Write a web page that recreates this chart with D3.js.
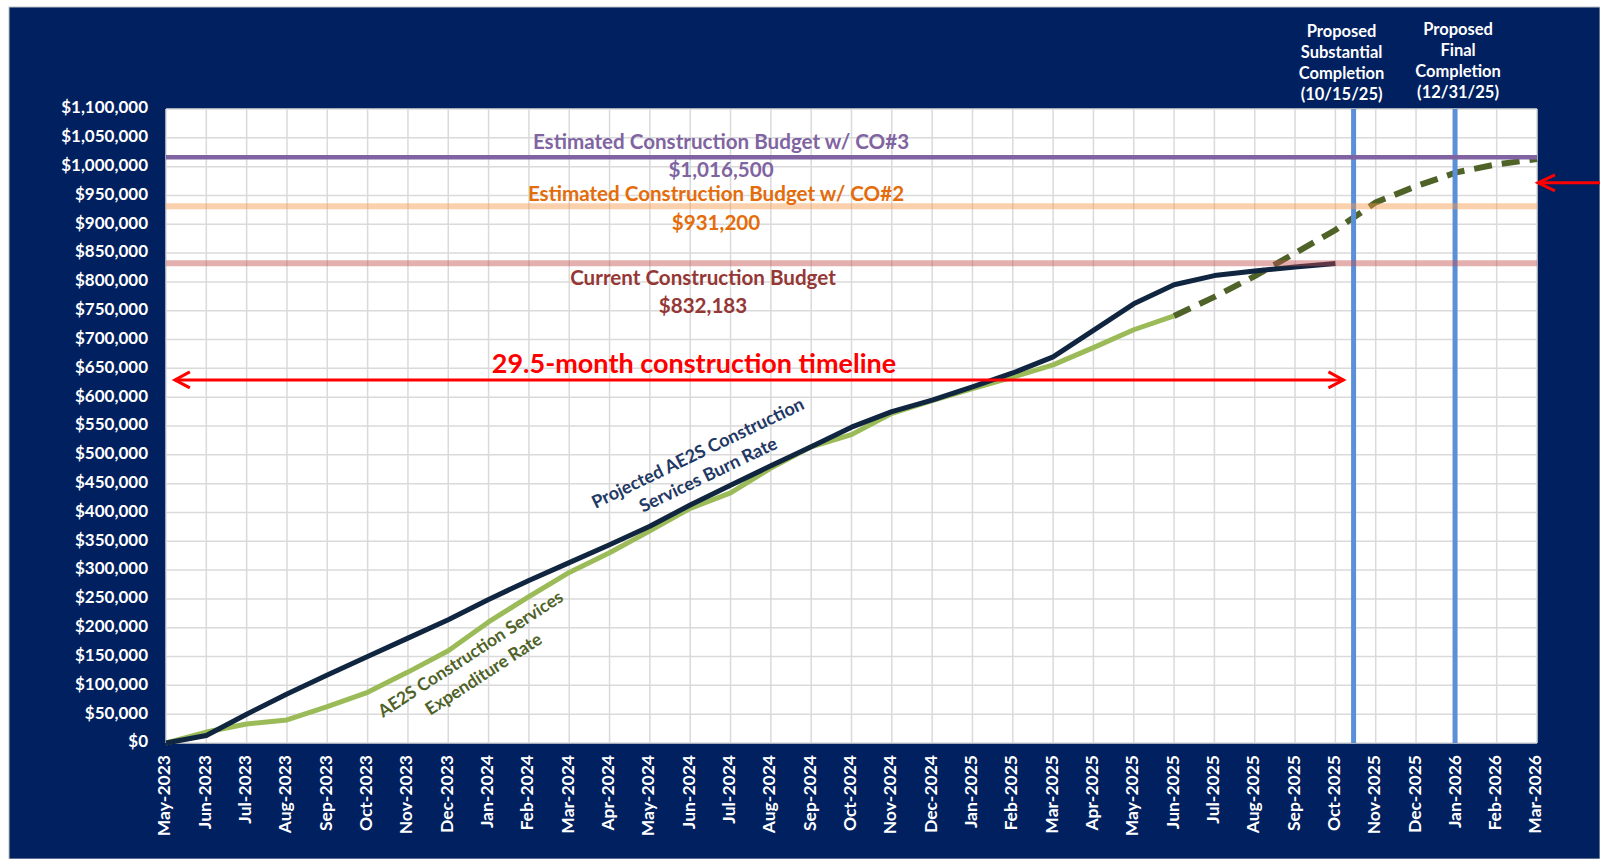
<!DOCTYPE html>
<html>
<head>
<meta charset="utf-8">
<script src="https://cdn.jsdelivr.net/npm/d3@7"></script>
<style>
  body { margin: 0; background: #fff; }
  svg text { font-family: Lato, "Open Sans", sans-serif; font-weight: bold; }
</style>
</head>
<body>
<svg id="chart" width="1600" height="859"></svg>
<script>
// Month tick labels (x axis)
const months = [
  'May-2023', 'Jun-2023', 'Jul-2023', 'Aug-2023', 'Sep-2023', 'Oct-2023', 'Nov-2023', 'Dec-2023',
  'Jan-2024', 'Feb-2024', 'Mar-2024', 'Apr-2024', 'May-2024', 'Jun-2024', 'Jul-2024', 'Aug-2024',
  'Sep-2024', 'Oct-2024', 'Nov-2024', 'Dec-2024', 'Jan-2025', 'Feb-2025', 'Mar-2025', 'Apr-2025',
  'May-2025', 'Jun-2025', 'Jul-2025', 'Aug-2025', 'Sep-2025', 'Oct-2025', 'Nov-2025', 'Dec-2025',
  'Jan-2026', 'Feb-2026', 'Mar-2026'
];

// Projected burn rate, May-2023 .. Oct-2025
const burnRate = [
  0, 13000, 50000, 85000, 118000, 150000, 182000, 214000,
  249000, 282000, 313000, 344000, 376000, 413000, 447000, 481000,
  514000, 548000, 575000, 595000, 618000, 642000, 670000, 716000,
  762000, 795000, 811000, 819000, 826000, 832000
];

// Actual expenditure, May-2023 .. Jun-2025
const expenditure = [
  0, 19000, 33000, 40000, 63000, 88000, 123000, 160000,
  210000, 254000, 296000, 330000, 368000, 407000, 434000, 477000,
  514000, 535000, 572000, 594000, 615000, 635000, 656000, 686000,
  717000, 741000
];

// Projected expenditure (dashed), Jun-2025 .. Mar-2026
const projectedStart = 25;
const projected = [741000, 774000, 810000, 850000, 890000, 938000, 966000, 990000, 1004000, 1013000];

// Budget reference lines
const budgetNames = ['Estimated Construction Budget w/ CO#3', 'Estimated Construction Budget w/ CO#2', 'Current Construction Budget'];
const budgetValues = [1016500, 931200, 832183];

// Milestones
const milestoneNames = [['Proposed', 'Substantial', 'Completion', '(10/15/25)'], ['Proposed', 'Final', 'Completion', '(12/31/25)']];
const milestoneDates = ['2025-10-15', '2025-12-31'];

// Timeline annotation
const timelineLabel = '29.5-month construction timeline';

// ---- layout ----
const plotLeft = 166, plotRight = 1537, plotTop = 109, plotBottom = 743;
const svg = d3.select('#chart');

const x = d3.scaleLinear().domain([0, months.length - 1]).range([plotLeft, plotRight]);
const y = d3.scaleLinear().domain([0, 1100000]).range([plotBottom, plotTop]);
const yTicks = d3.range(0, 1100001, 50000);

// convert a date string into a fractional month index from May-2023
const monthIndex = (s) => {
  const [yy, mm, dd] = s.split('-').map(Number);
  const days = new Date(yy, mm, 0).getDate();
  return (yy - 2023) * 12 + (mm - 5) + (dd - 1) / days;
};

// background panel
svg.append('rect')
  .attr('x', 9).attr('y', 7).attr('width', 1591).attr('height', 852)
  .attr('fill', '#002060').attr('stroke', '#bfbfbf').attr('stroke-width', 1);

svg.append('rect')
  .attr('x', plotLeft).attr('y', plotTop).attr('width', plotRight - plotLeft).attr('height', plotBottom - plotTop)
  .attr('fill', '#fff');

// grid
const grid = svg.append('g').attr('stroke', '#dadada').attr('stroke-width', 1.5);
grid.selectAll('.hgrid').data(yTicks).join('line')
  .attr('x1', plotLeft).attr('x2', plotRight)
  .attr('y1', d => y(d)).attr('y2', d => y(d));
grid.selectAll('.vgrid').data(months).join('line')
  .attr('x1', (d, i) => x(i)).attr('x2', (d, i) => x(i))
  .attr('y1', plotTop).attr('y2', plotBottom);

// y axis labels
svg.append('g').selectAll('text').data(yTicks).join('text')
  .attr('x', 148).attr('y', d => y(d))
  .attr('text-anchor', 'end').attr('dominant-baseline', 'middle')
  .attr('fill', '#fff').attr('font-size', 17)
  .text(d => d3.format('$,')(d));

// x axis labels
svg.append('g').selectAll('text').data(months).join('text')
  .attr('transform', (d, i) => `translate(${x(i)},755) rotate(-90)`)
  .attr('text-anchor', 'end').attr('dominant-baseline', 'middle')
  .attr('fill', '#fff').attr('font-size', 17.5)
  .text(d => d);

// series
const line = offset => d3.line().x((d, i) => x(i + offset)).y(d => y(d));

svg.append('path').datum(expenditure)
  .attr('d', line(0)).attr('fill', 'none')
  .attr('stroke', '#9bbb59').attr('stroke-width', 5).attr('stroke-linejoin', 'round');

svg.append('path').datum(projected)
  .attr('d', line(projectedStart)).attr('fill', 'none')
  .attr('stroke', '#4f6228').attr('stroke-width', 6)
  .attr('stroke-dasharray', '18,10');

svg.append('path').datum(burnRate)
  .attr('d', line(0)).attr('fill', 'none')
  .attr('stroke', '#10253f').attr('stroke-width', 5).attr('stroke-linejoin', 'round');

// milestone lines
const msX = milestoneDates.map(d => x(monthIndex(d)));
svg.append('g').selectAll('line').data(msX).join('line')
  .attr('x1', d => d).attr('x2', d => d)
  .attr('y1', plotTop).attr('y2', plotBottom)
  .attr('stroke', '#5b8fd8').attr('stroke-width', 5);

// budget lines (drawn over the series, like the original)
const budgetStyles = [
  { stroke: '#8064a2', opacity: 1, width: 4.5, text: '#8064a2' },
  { stroke: '#f79646', opacity: 0.45, width: 6, text: '#e46c0a' },
  { stroke: '#c0504d', opacity: 0.45, width: 6, text: '#953735' }
];
svg.append('g').selectAll('line').data(budgetValues).join('line')
  .attr('x1', plotLeft).attr('x2', plotRight)
  .attr('y1', d => y(d)).attr('y2', d => y(d))
  .attr('stroke', (d, i) => budgetStyles[i].stroke)
  .attr('stroke-opacity', (d, i) => budgetStyles[i].opacity)
  .attr('stroke-width', (d, i) => budgetStyles[i].width);

// budget labels: name above / value below
const budgetLabelPos = [
  { cx: 721, nameDy: -8, valueDy: 20 },
  { cx: 716, nameDy: -5, valueDy: 24 },
  { cx: 703, nameDy: 22, valueDy: 50 }
];
budgetValues.forEach((v, i) => {
  const p = budgetLabelPos[i];
  svg.append('text')
    .attr('x', p.cx).attr('y', y(v) + p.nameDy)
    .attr('text-anchor', 'middle').attr('font-size', 20.6)
    .attr('fill', budgetStyles[i].text)
    .text(budgetNames[i]);
  svg.append('text')
    .attr('x', p.cx).attr('y', y(v) + p.valueDy)
    .attr('text-anchor', 'middle').attr('font-size', 20.6)
    .attr('fill', budgetStyles[i].text)
    .text(d3.format('$,')(v));
});

// timeline arrow
const tlY = y(630000);
const tlX1 = x(0.22), tlX2 = x(29.2);
const tl = svg.append('g').attr('stroke', '#ff0000').attr('stroke-width', 3).attr('fill', 'none');
tl.append('line').attr('x1', tlX1).attr('x2', tlX2).attr('y1', tlY).attr('y2', tlY);
tl.append('path').attr('d', `M${tlX1 + 15},${tlY - 8} L${tlX1},${tlY} L${tlX1 + 15},${tlY + 8}`);
tl.append('path').attr('d', `M${tlX2 - 15},${tlY - 8} L${tlX2},${tlY} L${tlX2 - 15},${tlY + 8}`);
svg.append('text')
  .attr('x', 694).attr('y', tlY - 7)
  .attr('text-anchor', 'middle').attr('font-size', 27)
  .attr('fill', '#ff0000')
  .text(timelineLabel);

// right-hand arrow pointing at the plot
const raY = y(972000);
const ra = svg.append('g').attr('stroke', '#ff0000').attr('stroke-width', 3).attr('fill', 'none');
ra.append('line').attr('x1', 1600).attr('x2', plotRight + 1).attr('y1', raY).attr('y2', raY);
ra.append('path').attr('d', `M${plotRight + 18},${raY - 8} L${plotRight + 1},${raY} L${plotRight + 18},${raY + 8}`);

// milestone headers
const headerOffsets = [-12, 3];
const headerTops = [37, 35];
milestoneNames.forEach((lines, i) => {
  svg.append('text')
    .attr('x', msX[i] + headerOffsets[i]).attr('y', headerTops[i])
    .attr('text-anchor', 'middle').attr('font-size', 16.5).attr('fill', '#fff')
    .selectAll('tspan').data(lines).join('tspan')
      .attr('x', msX[i] + headerOffsets[i])
      .attr('dy', (d, j) => j === 0 ? 0 : 21)
      .text(d => d);
});

// series labels
const burnLabel = svg.append('text')
  .attr('transform', 'translate(703,464) rotate(-25.6)')
  .attr('text-anchor', 'middle').attr('font-size', 18).attr('fill', '#1f3864');
burnLabel.append('tspan').attr('x', 0).attr('y', -6).text('Projected AE2S Construction');
burnLabel.append('tspan').attr('x', 0).attr('y', 18).text('Services Burn Rate');

const expLabel = svg.append('text')
  .attr('transform', 'translate(477,664) rotate(-33)')
  .attr('text-anchor', 'middle').attr('font-size', 17.5).attr('fill', '#4f6228');
expLabel.append('tspan').attr('x', 0).attr('y', -6).text('AE2S Construction Services');
expLabel.append('tspan').attr('x', 0).attr('y', 18).text('Expenditure Rate');
</script>
</body>
</html>
